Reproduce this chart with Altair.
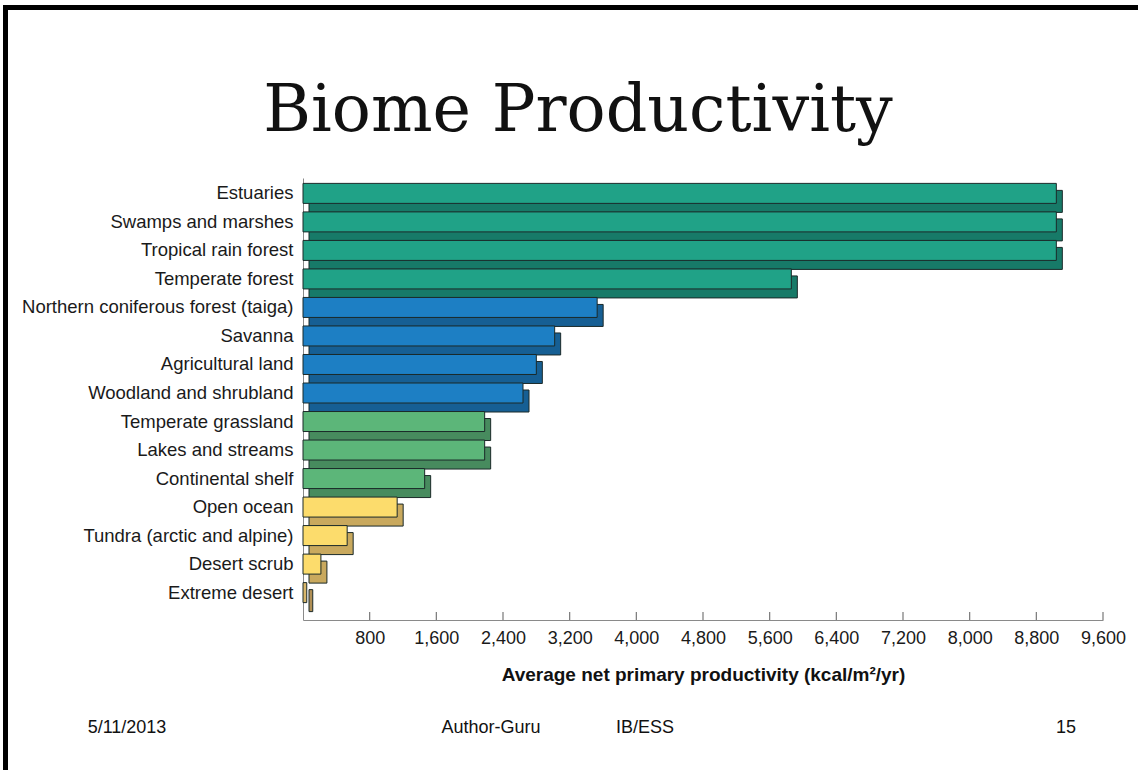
import altair as alt
import pandas as pd

# ---- data ----
biomes = [
    "Estuaries", "Swamps and marshes", "Tropical rain forest", "Temperate forest",
    "Northern coniferous forest (taiga)", "Savanna", "Agricultural land",
    "Woodland and shrubland", "Temperate grassland", "Lakes and streams",
    "Continental shelf", "Open ocean", "Tundra (arctic and alpine)",
    "Desert scrub", "Extreme desert",
]
npp = [9040, 9040, 9040, 5860, 3530, 3020, 2800, 2640, 2180, 2180, 1460, 1130, 530, 215, 45]
groups = ["very high"] * 4 + ["high"] * 4 + ["medium"] * 3 + ["low"] * 3 + ["very low"]
group_order = ["very high", "high", "medium", "low", "very low"]
front_colors = ["#20a287", "#1d7fc4", "#5cb679", "#fcdc6c", "#d8b66a"]
side_colors = ["#177a68", "#165f94", "#478b5e", "#c9a95e", "#b08f55"]
tick_values = [800, 1600, 2400, 3200, 4000, 4800, 5600, 6400, 7200, 8000, 8800, 9600]

title_text = "Biome Productivity"
x_title = "Average net primary productivity (kcal/m\u00b2/yr)"
footer_date = "5/11/2013"
footer_author = "Author-Guru"
footer_course = "IB/ESS"
footer_page = "15"

df = pd.DataFrame({"biome": biomes, "npp": npp, "group": groups})
ticks_df = pd.DataFrame({"t": tick_values})

W, H = 800, 442
SANS = "Liberation Sans"
OUTLINE = "#1b2a29"

xscale = alt.Scale(domain=[0, 9600], nice=False, zero=True)
yscale = alt.Scale(domain=biomes, paddingInner=0, paddingOuter=0.25)

x_enc = alt.X(
    "npp:Q", scale=xscale,
    axis=alt.Axis(
        values=tick_values, format=",d", ticks=False, grid=False,
        labelOverlap=False, labelFlush=False,
        domainColor="#8a8a8a", domainWidth=1.2,
        labelFont=SANS, labelFontSize=18, labelColor="#1a1a1a", labelPadding=9,
        title=x_title, titleFont=SANS, titleFontSize=19, titleFontWeight="bold",
        titleColor="#111111", titlePadding=18,
    ),
)
y_enc = alt.Y(
    "biome:N", sort=biomes, scale=yscale,
    axis=alt.Axis(
        title=None, ticks=False, grid=False, domainColor="#8a8a8a",
        labelFont=SANS, labelFontSize=18.5, labelColor="#1a1a1a",
        labelPadding=10, labelLimit=400, labelOffset=-6,
    ),
)

base = alt.Chart(df)

side = base.mark_bar(
    height=22, xOffset=6, x2Offset=6, yOffset=2, y2Offset=2,
    stroke=OUTLINE, strokeWidth=1,
).encode(
    x=x_enc, y=y_enc,
    color=alt.Color("group:N", scale=alt.Scale(domain=group_order, range=side_colors), legend=None),
)

front = base.mark_bar(
    height=20, yOffset=-6, y2Offset=-6, stroke=OUTLINE, strokeWidth=1,
).encode(
    x=alt.X("npp:Q", scale=xscale),
    y=alt.Y("biome:N", sort=biomes, scale=yscale),
    color=alt.Color("group:N", scale=alt.Scale(domain=group_order, range=front_colors), legend=None),
)

tick_marks = alt.Chart(ticks_df).mark_rule(color="#777777", strokeWidth=1.2).encode(
    x=alt.X("t:Q", scale=xscale),
    y=alt.value(H - 8),
    y2=alt.value(H),
)

def label(text, x, y, size, font=SANS, weight="normal", align="center"):
    return alt.Chart(pd.DataFrame({"t": [text]})).mark_text(
        font=font, fontSize=size, fontWeight=weight, color="#111111",
        align=align, baseline="alphabetic",
    ).encode(text="t:N", x=alt.value(x), y=alt.value(y))

title = label(title_text, 275, -47, 65, font="DejaVu Serif")
f1 = label(footer_date, -176, 555, 18)
f2 = label(footer_author, 188, 555, 18)
f3 = label(footer_course, 342, 555, 18)
f4 = label(footer_page, 763, 555, 18)

border_left = alt.Chart(pd.DataFrame({"k": [0]})).mark_rule(color="black", strokeWidth=5).encode(
    x=alt.value(-297.5), y=alt.value(-173), y2=alt.value(592)
)
border_top = alt.Chart(pd.DataFrame({"k": [0]})).mark_rule(color="black", strokeWidth=5).encode(
    x=alt.value(-300), x2=alt.value(835), y=alt.value(-170.5)
)

chart = alt.layer(
    side, front, tick_marks, title, f1, f2, f3, f4, border_left, border_top
).resolve_scale(color="independent").properties(
    width=W, height=H,
    padding={"left": 0, "top": 2, "right": 0, "bottom": 0},
    background="white",
).configure_view(stroke=None)

chart.save("out.html", embed_options={"renderer": "svg", "actions": False})
